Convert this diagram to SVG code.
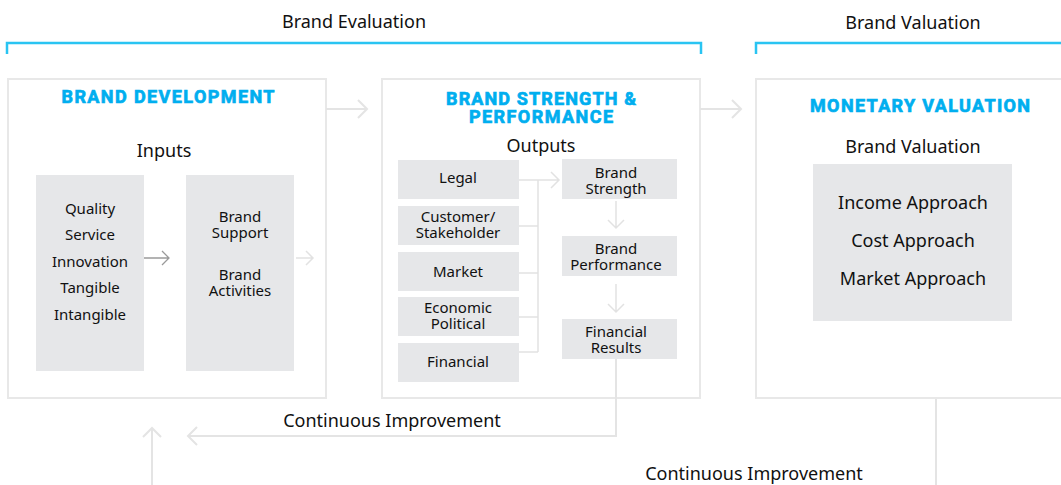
<svg xmlns="http://www.w3.org/2000/svg" width="1061" height="485" viewBox="0 0 1061 485">
<style>
text{font-family:"Noto Sans","Liberation Sans",sans-serif;fill:#111;text-anchor:middle;dominant-baseline:central}
.h{font-size:18px}
.t{font-size:15px}
.v{font-size:18px}
.ttl{font-family:Roboto,"Liberation Sans",sans-serif;font-weight:700;font-size:18px;fill:#00aeef;stroke:#00aeef;stroke-width:0.7}
.box{fill:#fff;stroke:#e8e8e8;stroke-width:2}
.g{fill:#e6e7e9}
.br{fill:none;stroke:#29c4f2;stroke-width:2.5}
.c{fill:none;stroke:#e4e4e4;stroke-width:2}
.cd{fill:none;stroke:#9a9a9a;stroke-width:1.3}
.cl{fill:none;stroke:#e2e2e2;stroke-width:1.5}
</style>
<g id="brackets">
<path class="br" d="M7,54 V43 H701 V54"/>
<path class="br" d="M756,54 V43 H1070"/>
<text class="h" x="354" y="21">Brand Evaluation</text>
<text class="h" x="913" y="22">Brand Valuation</text>
</g>
<g id="brand-development">
<rect class="box" x="8" y="79" width="318" height="319"/>
<text class="ttl" x="168" y="96" textLength="213" lengthAdjust="spacing">BRAND DEVELOPMENT</text>
<text class="h" x="164" y="150">Inputs</text>
<rect class="g" x="36" y="175" width="108" height="196"/>
<text class="t" x="90" y="208">Quality</text>
<text class="t" x="90" y="234">Service</text>
<text class="t" x="90" y="261">Innovation</text>
<text class="t" x="90" y="287">Tangible</text>
<text class="t" x="90" y="314">Intangible</text>
<rect class="g" x="186" y="175" width="108" height="196"/>
<text class="t" x="240" y="216">Brand<tspan x="240" dy="16">Support</tspan></text>
<text class="t" x="240" y="274">Brand<tspan x="240" dy="16">Activities</tspan></text>
</g>
<g id="brand-strength">
<rect class="box" x="382" y="79" width="318" height="319"/>
<text class="ttl" x="541" y="98"><tspan x="541" textLength="190" lengthAdjust="spacing">BRAND STRENGTH &amp;</tspan><tspan x="541" dy="18" textLength="144" lengthAdjust="spacing">PERFORMANCE</tspan></text>
<text class="h" x="541" y="145">Outputs</text>
<rect class="g" x="398" y="160" width="121" height="39"/>
<text class="t" x="458" y="177">Legal</text>
<rect class="g" x="398" y="206" width="121" height="39"/>
<text class="t" x="458" y="216">Customer/<tspan x="458" dy="16">Stakeholder</tspan></text>
<rect class="g" x="398" y="252" width="121" height="39"/>
<text class="t" x="458" y="271">Market</text>
<rect class="g" x="398" y="297" width="121" height="39"/>
<text class="t" x="458" y="307">Economic<tspan x="458" dy="16">Political</tspan></text>
<rect class="g" x="398" y="343" width="121" height="39"/>
<text class="t" x="458" y="361">Financial</text>
<rect class="g" x="562" y="159" width="115" height="40"/>
<text class="t" x="616" y="172">Brand<tspan x="616" dy="16">Strength</tspan></text>
<rect class="g" x="562" y="236" width="115" height="40"/>
<text class="t" x="616" y="248">Brand<tspan x="616" dy="16">Performance</tspan></text>
<rect class="g" x="562" y="319" width="115" height="40"/>
<text class="t" x="616" y="331">Financial<tspan x="616" dy="16">Results</tspan></text>
</g>
<g id="monetary-valuation">
<rect class="box" x="756" y="79" width="320" height="319"/>
<text class="ttl" x="920" y="105" textLength="220" lengthAdjust="spacing">MONETARY VALUATION</text>
<text class="h" x="913" y="146">Brand Valuation</text>
<rect class="g" x="813" y="164" width="199" height="157"/>
<text class="v" x="913" y="202">Income Approach</text>
<text class="v" x="913" y="240">Cost Approach</text>
<text class="v" x="913" y="278">Market Approach</text>
</g>
<g id="connectors">
<path class="c" d="M326,109 H367 M358,100 L367,109 L358,118"/>
<path class="c" d="M700,109 H741 M732,100 L741,109 L732,118"/>
<path class="cd" d="M144,258 H169 M162,251 L169,258 L162,265"/>
<path class="cl" d="M296,258 H313 M306,251 L313,258 L306,265"/>
<path class="cl" d="M519,180 H559 M551,172 L559,180 L551,188"/>
<path class="cl" d="M538,180 V352 M519,226 H538 M519,273 H538 M519,317 H538 M519,352 H538"/>
<path class="cl" d="M616,201 V228 M608,220 L616,228 L624,220"/>
<path class="cl" d="M616,284 V312 M608,304 L616,312 L624,304"/>
<path class="c" d="M616,359 V436 H188 M197,427 L188,436 L197,445"/>
<path class="c" d="M152,485 V428 M143,437 L152,428 L161,437"/>
<path class="c" d="M936,399 V485"/>
<text class="h" x="392" y="420">Continuous Improvement</text>
<text class="h" x="754" y="473">Continuous Improvement</text>
</g>
</svg>
